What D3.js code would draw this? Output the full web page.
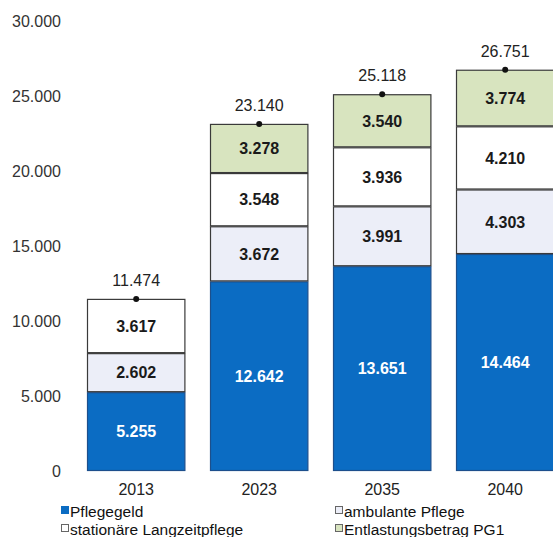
<!DOCTYPE html>
<html><head><meta charset="utf-8">
<script src="https://cdn.jsdelivr.net/npm/d3@7"></script>
<style>body{margin:0;background:#fff}svg{display:block}</style>
</head><body>
<svg id="c" width="553" height="537"></svg>
<script>
const categories = ["2013", "2023", "2035", "2040"];
const seriesNames = ["Pflegegeld", "ambulante Pflege", "stationäre Langzeitpflege", "Entlastungsbetrag PG1"];
const pflegegeld = [5255, 12642, 13651, 14464];
const ambulante = [2602, 3672, 3991, 4303];
const stationaer = [3617, 3548, 3936, 4210];
const entlastung = [0, 3278, 3540, 3774];
const totals = [11474, 23140, 25118, 26751];
const yTicks = [0, 5000, 10000, 15000, 20000, 25000, 30000];

const colors = ["#0b6cc3", "#eceef8", "#ffffff", "#d8e4bf"];
const strokes = ["#1d4f8c", "#3a3a3a", "#3a3a3a", "#3a3a3a"];
const labelColors = ["#ffffff", "#1a1a1a", "#1a1a1a", "#1a1a1a"];
const fmt = v => d3.format(",")(v).replace(/,/g, ".");

const svg = d3.select("#c");
const font = "Liberation Sans, Arial, sans-serif";

const y = d3.scaleLinear().domain([0, 30000]).range([471, 21]);
const x = d3.scaleBand().domain(categories).range([74.7, 566.7]).paddingInner(0.2).paddingOuter(0.1);

const rows = categories.map((c, i) => ({cat: c, s0: pflegegeld[i], s1: ambulante[i], s2: stationaer[i], s3: entlastung[i]}));
const stack = d3.stack().keys(["s0", "s1", "s2", "s3"])(rows);

// y axis labels
const yAxis = d3.axisLeft(y).tickValues(yTicks).tickFormat(fmt).tickSize(0).tickPadding(0);
const ga = svg.append("g").attr("transform", "translate(61,0)").call(yAxis);
ga.select(".domain").remove();
ga.selectAll("text").attr("font-family", font).attr("font-size", 16).attr("fill", "#333");

// x axis labels
const xAxis = d3.axisBottom(x).tickSize(0).tickPadding(0);
const gx = svg.append("g").attr("transform", "translate(0,484)").call(xAxis);
gx.select(".domain").remove();
gx.selectAll("text").attr("font-family", font).attr("font-size", 16).attr("fill", "#222").attr("dy", "0.71em");

// bars
stack.forEach((layer, li) => {
  const g = svg.append("g");
  layer.forEach((d, i) => {
    const h = y(d[0]) - y(d[1]);
    if (h <= 0) return;
    g.append("rect")
      .attr("x", x(categories[i]) + 0.5).attr("y", y(d[1]) + 0.5)
      .attr("width", x.bandwidth() - 1).attr("height", h - 1)
      .attr("fill", colors[li]).attr("stroke", strokes[li]).attr("stroke-width", 1.2);
    g.append("text")
      .attr("x", x(categories[i]) + x.bandwidth() / 2)
      .attr("y", (y(d[0]) + y(d[1])) / 2).attr("dy", "0.36em")
      .attr("text-anchor", "middle").attr("font-family", font).attr("font-size", 16)
      .attr("font-weight", "bold").attr("fill", labelColors[li])
      .text(fmt(d[1] - d[0]));
  });
});

// totals
categories.forEach((c, i) => {
  const cx = x(c) + x.bandwidth() / 2;
  svg.append("circle").attr("cx", cx).attr("cy", y(totals[i])).attr("r", 3).attr("fill", "#111");
  svg.append("text").attr("x", cx).attr("y", y(totals[i]) - 13)
    .attr("text-anchor", "middle").attr("font-family", font).attr("font-size", 16)
    .attr("fill", "#222").text(fmt(totals[i]));
});

// legend
const legendPos = [[61, 517], [335, 517], [61, 535], [335, 535]];
const legendOrder = [0, 1, 2, 3];
legendOrder.forEach((si, k) => {
  const [lx, ly] = legendPos[k];
  svg.append("rect").attr("x", lx + 0.5).attr("y", ly - 10.5).attr("width", 7).attr("height", 7)
    .attr("fill", colors[si]).attr("stroke", si === 0 ? colors[0] : "#666").attr("stroke-width", 1);
  svg.append("text").attr("x", lx + 9).attr("y", ly).attr("font-family", font).attr("font-size", 15.5)
    .attr("fill", "#111").text(seriesNames[si]);
});
</script>
</body></html>
